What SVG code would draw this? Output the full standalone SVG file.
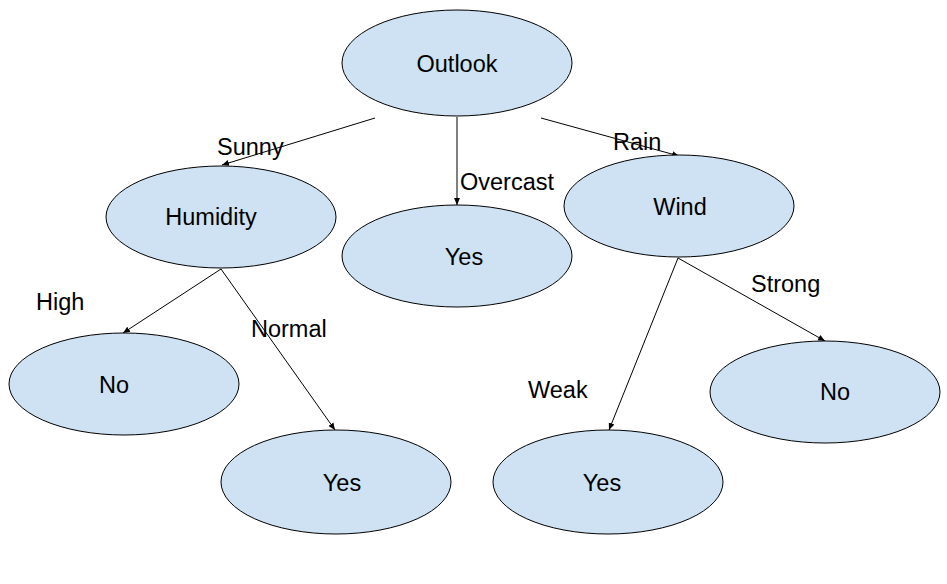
<svg xmlns="http://www.w3.org/2000/svg" width="947" height="584" viewBox="0 0 947 584">
<style>
.node ellipse{fill:#cfe2f3;stroke:#000;stroke-width:1}
text{font-family:"Liberation Sans",Arial,sans-serif;font-size:23.5px;fill:#000}
.node text{text-anchor:middle}
#edges line{stroke:#000;stroke-width:1;marker-end:url(#ah)}
</style>
<defs>
<marker id="ah" markerWidth="8" markerHeight="8" refX="7" refY="4" orient="auto" markerUnits="userSpaceOnUse">
<path d="M0,1 L7,4 L0,7 Z" fill="#000"/>
</marker>
</defs>
<rect width="947" height="584" fill="#fff"/>
<g id="edges">
<line x1="375" y1="118" x2="222" y2="165"/>
<line x1="457" y1="117" x2="457" y2="205"/>
<line x1="541" y1="118" x2="679" y2="156"/>
<line x1="221" y1="269" x2="123" y2="333"/>
<line x1="221" y1="269" x2="335" y2="430"/>
<line x1="678" y1="258" x2="609" y2="430"/>
<line x1="678" y1="258" x2="825" y2="341"/>
</g>
<g id="labels">
<text x="217" y="155">Sunny</text>
<text x="460" y="190">Overcast</text>
<text x="613" y="150">Rain</text>
<text x="36" y="310">High</text>
<text x="251" y="337">Normal</text>
<text x="751" y="292">Strong</text>
<text x="528" y="398">Weak</text>
</g>
<g id="n-outlook" class="node"><ellipse cx="457" cy="63" rx="115" ry="53"/><text x="457" y="72">Outlook</text></g>
<g id="n-humidity" class="node"><ellipse cx="221" cy="217" rx="115" ry="51"/><text x="211" y="225">Humidity</text></g>
<g id="n-yes-overcast" class="node"><ellipse cx="457" cy="256" rx="115" ry="51"/><text x="464" y="265">Yes</text></g>
<g id="n-wind" class="node"><ellipse cx="679" cy="206" rx="115" ry="51"/><text x="680" y="215">Wind</text></g>
<g id="n-no-high" class="node"><ellipse cx="124" cy="384" rx="115" ry="51"/><text x="114" y="393">No</text></g>
<g id="n-yes-normal" class="node"><ellipse cx="336" cy="482" rx="115" ry="52"/><text x="342" y="491">Yes</text></g>
<g id="n-yes-weak" class="node"><ellipse cx="608" cy="482" rx="115" ry="52"/><text x="602" y="491">Yes</text></g>
<g id="n-no-strong" class="node"><ellipse cx="825" cy="392" rx="115" ry="51"/><text x="835" y="400">No</text></g>
</svg>
